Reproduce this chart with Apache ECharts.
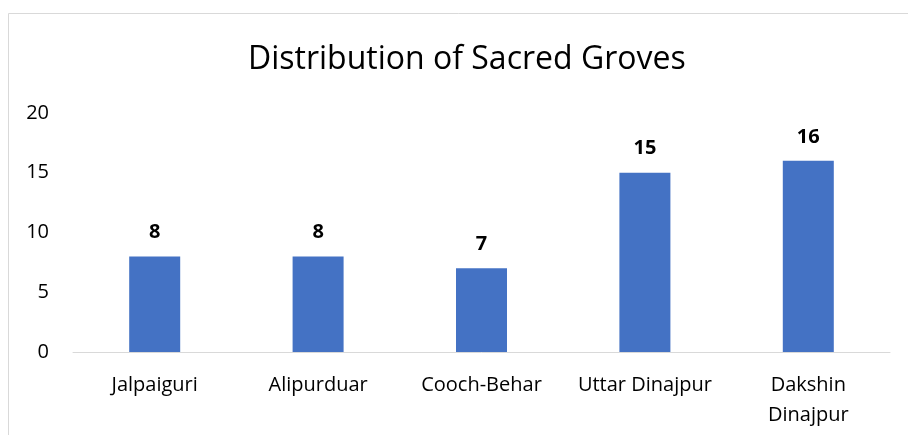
<!DOCTYPE html>
<html><head><meta charset="utf-8">
<script src="https://cdn.jsdelivr.net/npm/echarts@6/dist/echarts.min.js"></script>
<style>html,body{margin:0;padding:0;background:#fff}#c{width:908px;height:435px}</style>
</head><body><div id="c"></div>
<script>
const categories = ['Jalpaiguri', 'Alipurduar', 'Cooch-Behar', 'Uttar Dinajpur', 'Dakshin\nDinajpur'];
const values = [8, 8, 7, 15, 16];
const yTicks = [0, 5, 10, 15, 20];
const FONT = 'Open Sans';
const chart = echarts.init(document.getElementById('c'), null, {renderer: 'canvas'});
chart.setOption({
  animation: false,
  backgroundColor: '#fff',
  graphic: [{type: 'rect', shape: {x: 8.5, y: 13.5, width: 950, height: 500}, style: {fill: 'none', stroke: '#d9d9d9', lineWidth: 1}, silent: true}],
  title: {text: 'Distribution of Sacred Groves', left: 243, top: 39,
    textStyle: {fontFamily: FONT, fontSize: 32, fontWeight: 'normal', color: '#000'}},
  grid: {left: 73, right: 18, top: 113, bottom: 83},
  xAxis: {type: 'category', data: categories,
    axisLine: {lineStyle: {color: '#d9d9d9', width: 1}}, axisTick: {show: false},
    axisLabel: {fontFamily: FONT, fontSize: 20, color: '#000', margin: 18, lineHeight: 30, interval: 0}},
  yAxis: {type: 'value', min: yTicks[0], max: yTicks[yTicks.length - 1], interval: 5,
    splitLine: {show: false}, axisLine: {show: false}, axisTick: {show: false},
    axisLabel: {fontFamily: FONT, fontSize: 20, color: '#000', margin: 24}},
  series: [{type: 'bar', data: values, barWidth: 51,
    itemStyle: {color: '#4472C4'},
    label: {show: true, position: 'top', distance: 14, fontFamily: FONT, fontSize: 20, fontWeight: 'bold', color: '#000'}}]
});
</script></body></html>
